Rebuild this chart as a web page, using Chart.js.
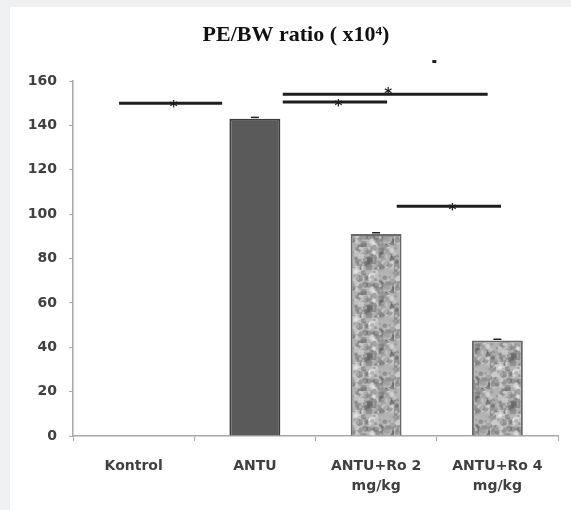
<!DOCTYPE html>
<html>
<head>
<meta charset="utf-8">
<script src="https://cdn.jsdelivr.net/npm/chart.js@4"></script>
<style>
  html, body { margin: 0; padding: 0; background: #eef0f2; }
  #panel { position: absolute; left: 10px; top: 7px; width: 561px; height: 503px; background: #fff; }
</style>
</head>
<body>
<div id="panel"><canvas id="myChart" width="561" height="503"></canvas></div>
<script>
const categories = ['Kontrol', 'ANTU', ['ANTU+Ro 2', 'mg/kg'], ['ANTU+Ro 4', 'mg/kg']];
const values = [0, 143, 91, 43];
const errors = [0, 0.6, 0.6, 0.6];

// significance bars (positions in category units)
const sigFrom = [-0.12, 1.23, 1.23, 2.17];
const sigTo = [0.73, 2.92, 2.09, 3.03];
const sigValue = [150, 154, 150.5, 103.6];
const sigStar = [0.33, 2.10, 1.69, 2.63];

const ctx = document.getElementById('myChart').getContext('2d');

// speckled fill for the Ro bars
function speckle() {
  const c = document.createElement('canvas');
  c.width = 48; c.height = 48;
  const g = c.getContext('2d');
  g.fillStyle = '#b4b4b4';
  g.fillRect(0, 0, 48, 48);
  let s = 12345;
  const rnd = () => { s = (s * 16807) % 2147483647; return s / 2147483647; };
  for (let i = 0; i < 280; i++) {
    const v = Math.floor(80 + rnd() * 160);
    g.fillStyle = 'rgba(' + v + ',' + v + ',' + v + ',0.55)';
    g.beginPath();
    g.arc(rnd() * 48, rnd() * 48, 1 + rnd() * 2.4, 0, Math.PI * 2);
    g.fill();
  }
  return ctx.createPattern(c, 'repeat');
}
const dots = speckle();

const extras = {
  id: 'extras',
  afterDatasetsDraw(chart) {
    const c = chart.ctx;
    const x = chart.scales.x, y = chart.scales.y;
    const x0 = x.getPixelForValue(0);
    const w = x.getPixelForValue(1) - x0;
    const px = p => x0 + p * w;
    c.save();
    // error caps
    c.strokeStyle = '#222';
    c.lineWidth = 1.5;
    values.forEach((v, i) => {
      if (!v) return;
      const cx = x.getPixelForValue(i);
      const yt = y.getPixelForValue(v + errors[i]);
      c.beginPath();
      c.moveTo(cx - 4, yt); c.lineTo(cx + 4, yt);
      c.stroke();
    });
    // significance lines
    c.lineWidth = 3;
    c.strokeStyle = '#1e1e1e';
    c.fillStyle = '#1e1e1e';
    c.font = 'bold 15px "DejaVu Sans"';
    c.textAlign = 'center';
    c.textBaseline = 'middle';
    sigValue.forEach((v, i) => {
      const yy = y.getPixelForValue(v);
      c.beginPath();
      c.moveTo(px(sigFrom[i]), yy);
      c.lineTo(px(sigTo[i]), yy);
      c.stroke();
      c.fillText('*', px(sigStar[i]), yy + (i === 1 ? 1 : 5));
    });
    // stray dot above the chart
    c.fillRect(px(2.48) - 2, y.getPixelForValue(169) - 1, 4, 3);
    // title
    c.font = 'bold 22px "Liberation Serif"';
    c.textBaseline = 'alphabetic';
    c.fillStyle = '#111';
    c.fillText('PE/BW ratio ( x10\u2074)', 286, 34);
    c.restore();
  }
};

const myChart = new Chart(ctx, {
  type: 'bar',
  data: {
    labels: categories,
    datasets: [
      {
        data: values,
        backgroundColor: ['#5a5a5a', '#5a5a5a', dots, dots],
        borderColor: ['#3c3c3c', '#3c3c3c', '#6a6a6a', '#6a6a6a'],
        borderWidth: 2,
        categoryPercentage: 1,
        barPercentage: 0.42,
      },
    ],
  },
  options: {
    responsive: false,
    animation: false,
    devicePixelRatio: 1,
    layout: { padding: { top: 74, right: 13, left: 0, bottom: 0 } },
    plugins: { legend: { display: false }, tooltip: { enabled: false } },
    scales: {
      y: {
        min: 0,
        max: 160,
        ticks: {
          stepSize: 20,
          padding: 12,
          color: '#404040',
          font: { family: 'DejaVu Sans', weight: 'bold', size: 14 },
        },
        grid: { drawOnChartArea: false, tickLength: 4, color: '#a8a8a8' },
        border: { color: '#a8a8a8', width: 1.5 },
        afterFit: s => { s.width = 63; },
      },
      x: {
        ticks: {
          padding: 15,
          color: '#404040',
          maxRotation: 0,
          font: { family: 'DejaVu Sans', weight: 'bold', size: 14, lineHeight: 1.45 },
        },
        grid: { drawOnChartArea: false, tickLength: 5, color: '#a8a8a8', offset: true },
        border: { color: '#a8a8a8', width: 1.5 },
        afterFit: s => { s.height = 74; },
      },
    },
  },
  plugins: [extras],
});
</script>
</body>
</html>
